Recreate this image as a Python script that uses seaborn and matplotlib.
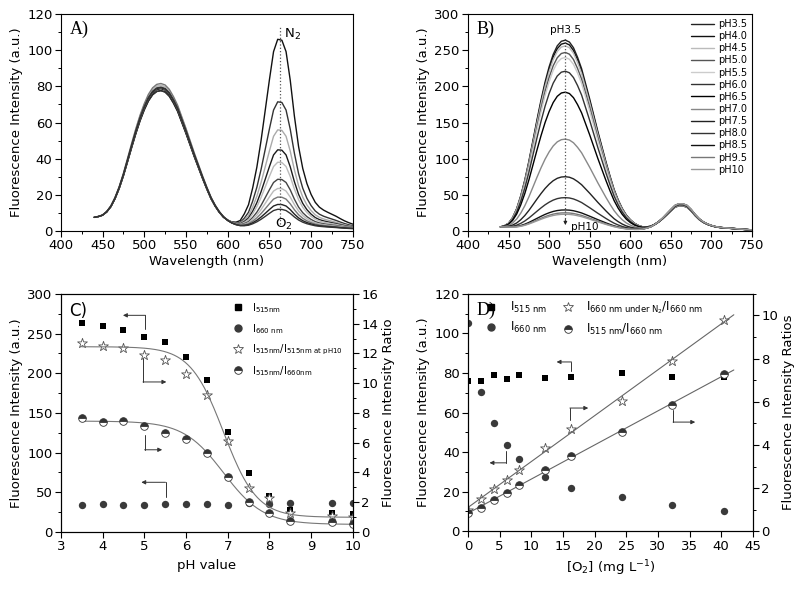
import numpy as np
import pandas as pd
import matplotlib.pyplot as plt
import seaborn as sns
from matplotlib.lines import Line2D
from matplotlib.ticker import MultipleLocator

sns.set_style("ticks", {"axes.edgecolor": "black", "xtick.color": "black",
                        "ytick.color": "black", "text.color": "black",
                        "axes.labelcolor": "black"})
plt.rcParams['font.family'] = ['DejaVu Sans']
plt.rcParams['mathtext.default'] = 'regular'

# ---- data ----
# wavelength grid of the spectra (nm)
wl = np.arange(440, 751, 5)
# normalised shape of the 520 nm band
green_shape = [0.0, 0.007, 0.022, 0.055, 0.105, 0.175, 0.26, 0.36, 0.47, 0.58,
               0.685, 0.78, 0.86, 0.925, 0.97, 0.994, 1.0, 0.99, 0.96, 0.91,
               0.85, 0.77, 0.69, 0.605, 0.52, 0.44, 0.36, 0.285, 0.215, 0.16,
               0.115, 0.08, 0.055, 0.036, 0.023, 0.014, 0.008, 0.005, 0.003, 0.002,
               0.001] + [0.0] * 22
# normalised shape of the 663 nm band
red_shape = [0.0] * 32 + [0.003, 0.007, 0.015, 0.03, 0.07, 0.12, 0.21, 0.32, 0.46, 0.62,
                          0.78, 0.93, 0.995, 0.99, 0.93, 0.78, 0.59, 0.43, 0.315, 0.235,
                          0.178, 0.137, 0.112, 0.097, 0.086, 0.076, 0.066, 0.054, 0.043,
                          0.034, 0.026]
base_a = [7.5, 7.4, 7.0, 6.3, 5.4, 4.5, 3.7, 3.0, 2.5, 2.1, 1.8, 1.6] + [1.5] * 41 + \
         [1.4, 1.35, 1.3, 1.25, 1.2, 1.15, 1.1, 1.05, 1.0, 1.0]
base_b = [5.5, 5.3, 4.8, 4.0, 3.2, 2.5, 2.0, 1.6, 1.3, 1.1, 1.0, 1.0] + [1.0] * 41 + \
         [0.95, 0.9, 0.85, 0.8, 0.75, 0.7, 0.65, 0.6, 0.55, 0.5]

# pH series (panels B and C)
ph = [3.5, 4.0, 4.5, 5.0, 5.5, 6.0, 6.5, 7.0, 7.5, 8.0, 8.5, 9.5, 10.0]
ph_labels = ['pH3.5', 'pH4.0', 'pH4.5', 'pH5.0', 'pH5.5', 'pH6.0', 'pH6.5',
             'pH7.0', 'pH7.5', 'pH8.0', 'pH8.5', 'pH9.5', 'pH10']
i515_ph = [263, 259, 255, 246, 239, 220, 191, 126, 74, 45, 28, 24, 22]
i660_ph = [34, 35, 34, 34, 35.5, 34.6, 35.5, 34, 36, 35.5, 36.8, 36.8, 36.8]
ratio_ph10 = [12.73, 12.52, 12.34, 11.91, 11.58, 10.63, 9.23, 6.08, 2.93, 2.3, 1.24, 1.08, 1.0]
ratio_ph = [7.68, 7.39, 7.43, 7.12, 6.62, 6.26, 5.27, 3.67, 2.03, 1.24, 0.72, 0.63, 0.54]
ph_colors = ['#222222', '#111111', '#bbbbbb', '#555555', '#cccccc', '#333333', '#000000',
             '#888888', '#222222', '#333333', '#111111', '#777777', '#999999']
# Boltzmann fit parameters (top, bottom, centre, width)
fit_ph10 = (12.45, 0.98, 6.9, 0.4)
fit_ratio = (7.45, 0.5, 6.9, 0.48)

# O2 series (panels A and D)
o2 = [0.0, 2.0, 4.1, 6.1, 8.0, 12.1, 16.2, 24.3, 32.3, 40.5]
i515_o2 = [76.2, 76.1, 79.1, 77.2, 79.1, 77.6, 77.8, 80.1, 77.8, 78.1]
i660_o2 = [105.1, 70.3, 54.7, 43.6, 36.7, 27.2, 22.1, 17.3, 13.2, 10.5]
ratio_n2 = [1.0, 1.5, 1.94, 2.39, 2.85, 3.84, 4.76, 6.03, 7.91, 9.77]
ratio_o2 = [0.85, 1.09, 1.44, 1.77, 2.16, 2.84, 3.5, 4.59, 5.86, 7.29]
o2_colors = ['#111111', '#333333', '#aaaaaa', '#1a1a1a', '#bbbbbb', '#444444',
             '#bbbbbb', '#777777', '#222222', '#333333']

green_shape = np.array(green_shape)
red_shape = np.array(red_shape)

# long tables for the spectra
rows = []
for k, (g, r) in enumerate(zip(i515_o2, i660_o2)):
    spec = g * green_shape + r * red_shape + np.array(base_a)
    rows.append(pd.DataFrame({'wl': wl, 'I': spec, 'run': f'o2_{k}'}))
df_a = pd.concat(rows)
rows = []
for lab, g, r in zip(ph_labels, i515_ph, i660_ph):
    spec = g * green_shape + r * red_shape + np.array(base_b)
    rows.append(pd.DataFrame({'wl': wl, 'I': spec, 'pH': lab}))
df_b = pd.concat(rows)

fig = plt.figure(figsize=(8, 5.89), dpi=100)
axA = fig.add_axes([0.076, 0.608, 0.365, 0.368])
axB = fig.add_axes([0.585, 0.608, 0.355, 0.368])
axC = fig.add_axes([0.076, 0.097, 0.365, 0.404])
axD = fig.add_axes([0.585, 0.098, 0.356, 0.403])


def style(ax, right=False):
    for s in ax.spines.values():
        s.set_linewidth(0.8)
    ax.tick_params(which='major', direction='out', length=4, width=0.8, labelsize=9.5,
                   pad=2, right=False, top=False)
    ax.tick_params(which='minor', direction='out', length=2.5, width=0.7,
                   right=False, top=False)
    if right:
        ax.tick_params(which='both', left=False, right=True)


def elbow(ax, x0, y0, x1, y1, x2, y2, color='#333333'):
    ax.plot([x0, x1], [y0, y1], color=color, lw=0.7)
    ax.annotate('', xy=(x2, y2), xytext=(x1, y1),
                arrowprops=dict(arrowstyle='-|>', color=color, lw=0.7,
                                shrinkA=0, shrinkB=0, mutation_scale=6))


# ---- A ----
sns.lineplot(data=df_a, x='wl', y='I', hue='run', palette=o2_colors, lw=1.0,
             errorbar=None, legend=False, ax=axA)
axA.set_xlim(400, 750)
axA.set_ylim(0, 120)
axA.xaxis.set_major_locator(MultipleLocator(50))
axA.xaxis.set_minor_locator(MultipleLocator(25))
axA.yaxis.set_major_locator(MultipleLocator(20))
axA.yaxis.set_minor_locator(MultipleLocator(10))
axA.set_xlabel('Wavelength (nm)', fontsize=9.5, labelpad=2)
axA.set_ylabel('Fluorescence Intensity (a.u.)', fontsize=9.5, labelpad=3)
axA.plot([663, 663], [4, 113], ls=':', color='#555555', lw=0.9)
axA.text(667, 109, r'N$_2$', fontsize=9.5, va='center')
axA.text(667, 3.5, r'O$_2$', fontsize=9.5, va='center', ha='center')
axA.text(0.03, 0.93, 'A)', transform=axA.transAxes, va='center',
         family='Liberation Serif', fontsize=13)
style(axA)

# ---- B ----
sns.lineplot(data=df_b, x='wl', y='I', hue='pH', hue_order=ph_labels, palette=ph_colors,
             lw=1.0, errorbar=None, ax=axB)
axB.set_xlim(400, 750)
axB.set_ylim(0, 300)
axB.xaxis.set_major_locator(MultipleLocator(50))
axB.xaxis.set_minor_locator(MultipleLocator(25))
axB.yaxis.set_major_locator(MultipleLocator(50))
axB.yaxis.set_minor_locator(MultipleLocator(25))
axB.set_xlabel('Wavelength (nm)', fontsize=9.5, labelpad=2)
axB.set_ylabel('Fluorescence Intensity (a.u.)', fontsize=9.5, labelpad=3)
handles, labels = axB.get_legend_handles_labels()
axB.legend(handles, labels, loc='upper right', frameon=False, fontsize=7,
           labelspacing=0.22, handlelength=2.4, handletextpad=0.4,
           borderaxespad=0.3, borderpad=0.2)
axB.plot([520, 520], [12, 268], ls=':', color='#555555', lw=0.9)
axB.annotate('', xy=(520, 8), xytext=(520, 16),
             arrowprops=dict(arrowstyle='-|>', color='#222222', lw=0.7,
                             shrinkA=0, shrinkB=0, mutation_scale=5))
axB.text(520, 278, 'pH3.5', fontsize=7.5, ha='center', va='center')
axB.text(527, 5, 'pH10', fontsize=7.5, ha='left', va='center')
axB.text(0.03, 0.93, 'B)', transform=axB.transAxes, va='center',
         family='Liberation Serif', fontsize=13)
style(axB)

# ---- C ----
axC2 = axC.twinx()
sns.scatterplot(x=ph, y=i515_ph, marker='s', color='black', s=22, linewidth=0, ax=axC)
sns.scatterplot(x=ph, y=i660_ph, marker='o', color='#3a3a3a', s=28, linewidth=0, ax=axC)
ph_fit = np.linspace(3.5, 10, 200)
for top, bot, x0, dx in (fit_ph10, fit_ratio):
    axC2.plot(ph_fit, bot + (top - bot) / (1 + np.exp((ph_fit - x0) / dx)),
              color='#777777', lw=0.8)
sns.scatterplot(x=ph, y=ratio_ph10, marker='*', s=55, facecolor='white',
                edgecolor='#555555', linewidth=0.6, ax=axC2)
axC2.plot(ph, ratio_ph, ls='none', marker='o', ms=5.5, color='#333333',
          fillstyle='top', markerfacecoloralt='white', markeredgewidth=0.6)
axC.set_xlim(3, 10)
axC.set_ylim(0, 300)
axC2.set_ylim(0, 16)
axC.xaxis.set_major_locator(MultipleLocator(1))
axC.yaxis.set_major_locator(MultipleLocator(50))
axC.yaxis.set_minor_locator(MultipleLocator(25))
axC2.yaxis.set_major_locator(MultipleLocator(2))
axC2.yaxis.set_minor_locator(MultipleLocator(1))
axC.set_xlabel('pH value', fontsize=9.5, labelpad=4)
axC.set_ylabel('Fluorescence Intensity (a.u.)', fontsize=9.5, labelpad=3)
axC2.set_ylabel('Fluorescence Intensity Ratio', fontsize=9.5, labelpad=3)
elbow(axC, 5.03, 256, 5.03, 273, 4.49, 273)
elbow(axC, 4.97, 222, 4.97, 189, 5.53, 189)
elbow(axC, 5.01, 122.5, 5.01, 103.5, 5.43, 103.5)
elbow(axC, 5.51, 44.4, 5.51, 62.5, 4.93, 62.5)
c_handles = [
    Line2D([], [], ls='none', marker='s', color='black', ms=5),
    Line2D([], [], ls='none', marker='o', color='#3a3a3a', ms=5),
    Line2D([], [], ls='none', marker='*', ms=7, markerfacecolor='white',
           markeredgecolor='#555555', markeredgewidth=0.6),
    Line2D([], [], ls='none', marker='o', ms=5.5, color='#333333', fillstyle='top',
           markerfacecoloralt='white', markeredgewidth=0.6),
]
c_labels = [r'I$_{515nm}$', r'I$_{660\ nm}$',
            r'I$_{515nm}$/I$_{515nm\ at\ pH10}$', r'I$_{515nm}$/I$_{660nm}$']
axC2.legend(c_handles, c_labels, loc='upper right', frameon=False, fontsize=7.2,
            labelspacing=0.7, handlelength=1.2, handletextpad=0.8,
            borderaxespad=0.3, bbox_to_anchor=(0.99, 1.0))
axC.text(0.03, 0.93, 'C)', transform=axC.transAxes, va='center', fontsize=12)
style(axC)
style(axC2, right=True)

# ---- D ----
axD2 = axD.twinx()
sns.scatterplot(x=o2, y=i515_o2, marker='s', color='black', s=22, linewidth=0, ax=axD)
sns.scatterplot(x=o2, y=i660_o2, marker='o', color='#3a3a3a', s=28, linewidth=0, ax=axD)
x_line = np.array([0, 42])
for yv in (ratio_n2, ratio_o2):
    slope, icpt = np.polyfit(o2, yv, 1)
    axD2.plot(x_line, icpt + slope * x_line, color='#666666', lw=0.8)
sns.scatterplot(x=o2, y=ratio_n2, marker='*', s=55, facecolor='white',
                edgecolor='#555555', linewidth=0.6, ax=axD2)
axD2.plot(o2, ratio_o2, ls='none', marker='o', ms=5.5, color='#333333',
          fillstyle='top', markerfacecoloralt='white', markeredgewidth=0.6)
axD.set_xlim(0, 45)
axD.set_ylim(0, 120)
axD2.set_ylim(0, 11)
axD.xaxis.set_major_locator(MultipleLocator(5))
axD.yaxis.set_major_locator(MultipleLocator(20))
axD.yaxis.set_minor_locator(MultipleLocator(10))
axD2.yaxis.set_major_locator(MultipleLocator(2))
axD2.yaxis.set_minor_locator(MultipleLocator(1))
axD.set_xlabel(r'[O$_2$] (mg L$^{-1}$)', fontsize=9.5, labelpad=4)
axD.set_ylabel('Fluorescence Intensity (a.u.)', fontsize=9.5, labelpad=3)
axD2.set_ylabel('Fluorescence Intensity Ratios', fontsize=9.5, labelpad=3)
elbow(axD, 16.35, 81, 16.35, 85.6, 14.0, 85.6)
elbow(axD, 16.1, 56.4, 16.1, 62.3, 19.0, 62.3)
elbow(axD, 6.07, 40.6, 6.07, 34.6, 3.4, 34.6)
elbow(axD, 32.4, 61.5, 32.4, 55.2, 35.9, 55.2)
d_labels = [r'I$_{515\ nm}$', r'I$_{660\ nm}$',
            r'I$_{660\ nm\ under\ N_2}$/I$_{660\ nm}$', r'I$_{515\ nm}$/I$_{660\ nm}$']
axD2.legend(c_handles, d_labels, loc='upper left', ncol=2, frameon=False, fontsize=8.6,
            labelspacing=0.45, handlelength=1.5, handletextpad=0.8, columnspacing=1.0,
            borderaxespad=0.1, bbox_to_anchor=(0.03, 1.0))
axD.text(0.03, 0.93, 'D)', transform=axD.transAxes, va='center',
         family='Liberation Serif', fontsize=13)
style(axD)
style(axD2, right=True)

fig.savefig('out.png', dpi=100)
